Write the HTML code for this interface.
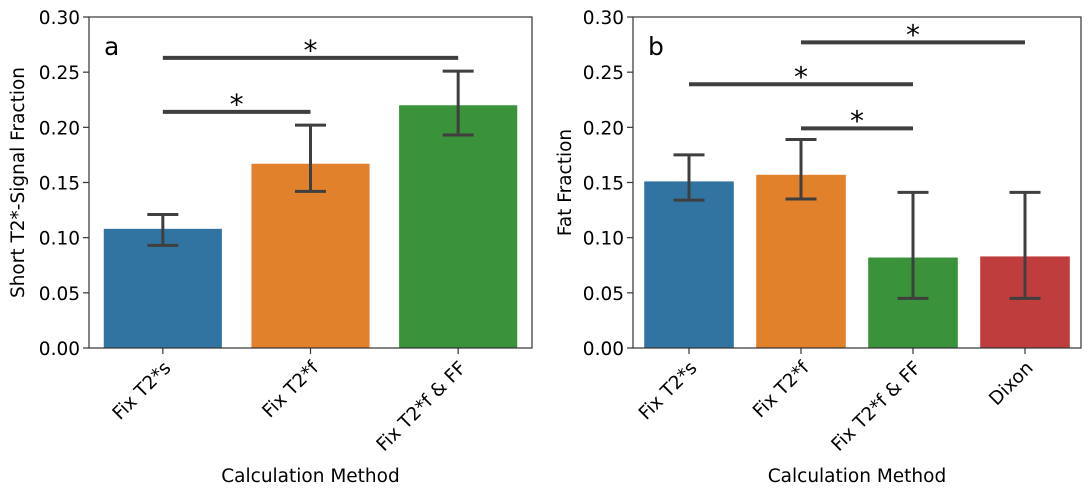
<!DOCTYPE html>
<html><head><meta charset="utf-8"><style>
body{margin:0;background:#fff;}
svg text{font-family:"DejaVu Sans","Liberation Sans",sans-serif;fill:#000;}
</style></head><body>
<svg id="chart" width="1089" height="496" viewBox="0 0 1089 496" xmlns="http://www.w3.org/2000/svg"></svg>
<script>
const catsA=["Fix T2*s","Fix T2*f","Fix T2*f & FF"];
const valsA=[0.108,0.167,0.220];
const loA=[0.093,0.142,0.193];
const hiA=[0.121,0.202,0.251];
const sigA=[[0,1,0.214],[0,2,0.263]];
const catsB=["Fix T2*s","Fix T2*f","Fix T2*f & FF","Dixon"];
const valsB=[0.151,0.157,0.082,0.083];
const loB=[0.134,0.135,0.045,0.045];
const hiB=[0.175,0.189,0.141,0.141];
const sigB=[[1,3,0.277],[0,2,0.239],[1,2,0.199]];
const yTicks=[0,0.05,0.10,0.15,0.20,0.25,0.30];
const colors=["#3274a1","#e1812c","#3a923a","#c03d3e"];
const NS="http://www.w3.org/2000/svg";
const svg=document.getElementById('chart');
function mk(tag,attrs,parent){const e=document.createElementNS(NS,tag);for(const k in attrs)e.setAttribute(k,attrs[k]);(parent||svg).appendChild(e);return e;}
function panel(id,L,R,cats,vals,lo,hi,sig,ylabel,letter,ylabX){
  const T=17,B=348,ymax=0.30;
  const g=mk('g',{});
  
  
  const y=v=>B-(v/ymax)*(B-T);
  const step=(R-L)/cats.length;
  const x=i=>L+step*(i+0.5);
  yTicks.forEach(t=>{
    const l=mk('line',{x1:L-6,x2:L,y1:y(t),y2:y(t),stroke:'#333','stroke-width':1.2},g);
    
    
    const tx=mk('text',{x:L-9,y:y(t)+7,'text-anchor':'end','font-size':18.5},g);
    tx.textContent=t.toFixed(2);
    
    
  });
  cats.forEach((c,i)=>{
    const w=step*0.8;
    const b=mk('rect',{x:x(i)-w/2,y:y(vals[i]),width:w,height:B-y(vals[i]),fill:colors[i]},g);
    
    
    const e=mk('path',{d:`M${x(i)},${y(lo[i])}V${y(hi[i])}M${x(i)-15.5},${y(lo[i])}H${x(i)+15.5}M${x(i)-15.5},${y(hi[i])}H${x(i)+15.5}`,stroke:'#3f3f3f','stroke-width':3,fill:'none'},g);
    
    
    const tk=mk('line',{x1:x(i),x2:x(i),y1:B,y2:B+6,stroke:'#333','stroke-width':1.2},g);
    
    
    const lab=mk('text',{x:0,y:0,'text-anchor':'end','font-size':18.5,transform:`translate(${x(i)+9},${B+21}) rotate(-45)`},g);
    lab.textContent=c;
    
    
  });
  sig.forEach(s=>{
    const l=mk('line',{x1:x(s[0]),x2:x(s[1]),y1:y(s[2]),y2:y(s[2]),stroke:'#3f3f3f','stroke-width':4},g);
    
    
    const st=mk('text',{x:(x(s[0])+x(s[1]))/2,y:y(s[2])+2,'text-anchor':'middle','font-size':28},g);
    st.textContent='*';
    
    
  });
  const fr=mk('rect',{x:L,y:T,width:R-L,height:B-T,fill:'none',stroke:'#333','stroke-width':1.2},g);
  
  
  const lt=mk('text',{x:L+15,y:55,'font-size':25},g);
  lt.textContent=letter;
  
  
  const yl=mk('text',{x:0,y:0,'text-anchor':'middle','font-size':18.5,transform:`translate(${ylabX},${(T+B)/2}) rotate(-90)`},g);
  yl.textContent=ylabel;
  
  
  const xl=mk('text',{x:(L+R)/2,y:482,'text-anchor':'middle','font-size':18.5},g);
  xl.textContent='Calculation Method';
  
  
}
panel('panel-a',89,532,catsA,valsA,loA,hiA,sigA,'Short T2*-Signal Fraction','a',24);
panel('panel-b',633,1081,catsB,valsB,loB,hiB,sigB,'Fat Fraction','b',571);
</script>
</body></html>
